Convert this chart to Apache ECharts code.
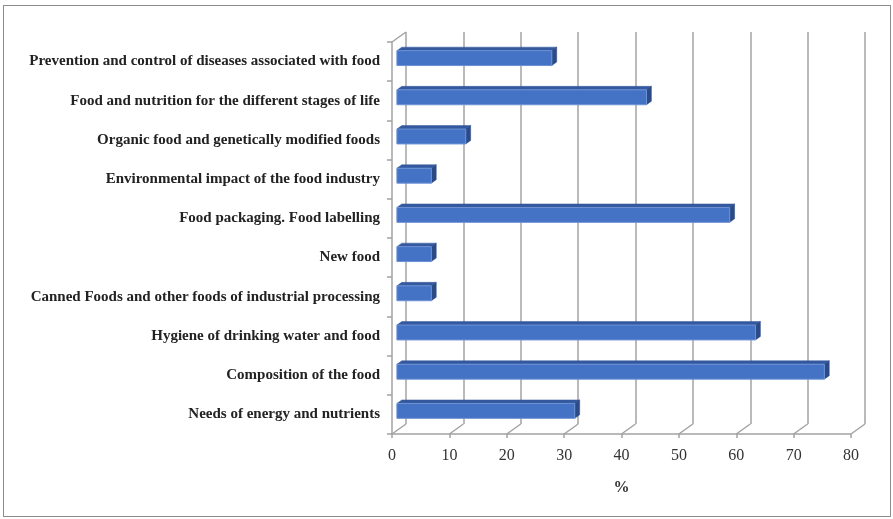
<!DOCTYPE html>
<html><head><meta charset="utf-8">
<script src="https://cdn.jsdelivr.net/npm/echarts@6/dist/echarts.min.js"></script>
<style>
html,body{margin:0;padding:0;background:#fff;}
#c{width:893px;height:519px;position:relative;}
#frame{position:absolute;left:3px;top:5px;width:886px;height:510px;border:1px solid #8c8c8c;pointer-events:none;}
</style></head>
<body>
<div id="c"></div><div id="frame"></div>
<script>
// Data
const categories = [
  "Prevention and control of diseases associated with food",
  "Food and nutrition for the different stages of life",
  "Organic food and genetically modified foods",
  "Environmental impact of the food industry",
  "Food packaging. Food labelling",
  "New food",
  "Canned Foods and other foods of industrial processing",
  "Hygiene of drinking water and food",
  "Composition of the food",
  "Needs of energy and nutrients"
];
const values = [27, 43.5, 12, 6, 58, 6, 6, 62.5, 74.5, 31];
const xTicks = [0, 10, 20, 30, 40, 50, 60, 70, 80];

// 3D depth (style)
const DX = 14, DY = -10;
const FRONT = 0.35, BACK = 0.7, BARW = 0.38;
const serif = '"Liberation Serif", "DejaVu Serif", serif';
const gridColor = '#a3a3a3';

const chart = echarts.init(document.getElementById('c'), null, {renderer: 'canvas'});

const option = {
  animation: false,
  grid: [
    {left: 392, top: 42, width: 459, height: 392},
    {left: 392 + DX, top: 42 + DY, width: 459, height: 392}
  ],
  xAxis: [
    {gridIndex: 0, type: 'value', min: 0, max: 80, interval: 10,
     axisLine: {show: true, lineStyle: {color: gridColor, width: 1.5}},
     axisTick: {show: true, length: 4, lineStyle: {color: gridColor, width: 1.5}},
     axisLabel: {fontFamily: serif, fontSize: 16, color: '#333', margin: 14},
     splitLine: {show: false},
     name: '%', nameLocation: 'middle', nameGap: 46,
     nameTextStyle: {fontFamily: serif, fontSize: 16, fontWeight: 'bold', color: '#333'}},
    {gridIndex: 1, type: 'value', min: 0, max: 80, interval: 10,
     axisLine: {show: false}, axisTick: {show: false}, axisLabel: {show: false},
     splitLine: {show: true, lineStyle: {color: gridColor, width: 1.5}}}
  ],
  yAxis: [
    {gridIndex: 0, type: 'category', data: categories, inverse: true,
     axisLine: {show: true, lineStyle: {color: gridColor, width: 1.5}},
     axisTick: {show: true, length: 5, lineStyle: {color: gridColor, width: 1.5}},
     axisLabel: {fontFamily: serif, fontSize: 15, fontWeight: 'bold', color: '#222', margin: 12}},
    {gridIndex: 1, type: 'category', data: categories, inverse: true, show: false}
  ],
  series: [
    {
      type: 'custom', xAxisIndex: 0, yAxisIndex: 0, clip: false, silent: true,
      data: xTicks.map(v => [v]),
      renderItem: function (params, api) {
        const cs = params.coordSys;
        const x = api.coord([api.value(0), 0])[0];
        const bottom = cs.y + cs.height;
        const children = [{
          type: 'line',
          shape: {x1: x, y1: bottom, x2: x + DX, y2: bottom + DY},
          style: {stroke: gridColor, lineWidth: 1.5}
        }];
        if (params.dataIndex === 0) {
          children.push({
            type: 'line',
            shape: {x1: cs.x, y1: cs.y, x2: cs.x + DX, y2: cs.y + DY},
            style: {stroke: gridColor, lineWidth: 1.5}
          });
        }
        return {type: 'group', children: children};
      }
    },
    {
      type: 'custom', xAxisIndex: 0, yAxisIndex: 0, clip: false,
      data: values.map((v, i) => [v, i]),
      renderItem: function (params, api) {
        const v = api.value(0), i = api.value(1);
        const p0 = api.coord([0, i]);
        const p1 = api.coord([v, i]);
        const band = api.size([0, 1])[1];
        const h = band * BARW;
        const fx = DX * FRONT, fy = DY * FRONT;
        const bx = DX * BACK, by = DY * BACK;
        const xl = p0[0] + fx, xr = p1[0] + fx;
        const yt = p0[1] - h / 2 + fy, yb = p0[1] + h / 2 + fy;
        const ddx = bx - fx, ddy = by - fy;
        return {
          type: 'group',
          children: [
            {type: 'polygon', shape: {points: [[xl, yt], [xr, yt], [xr + ddx, yt + ddy], [xl + ddx, yt + ddy]]},
             style: {fill: '#34599f', stroke: '#34599f', lineWidth: 0.5}},
            {type: 'polygon', shape: {points: [[xr, yt], [xr + ddx, yt + ddy], [xr + ddx, yb + ddy], [xr, yb]]},
             style: {fill: '#2b4a86', stroke: '#2b4a86', lineWidth: 0.5}},
            {type: 'rect', shape: {x: xl, y: yt, width: xr - xl, height: yb - yt},
             style: {fill: '#4472c4', stroke: '#6d92d6', lineWidth: 1}}
          ]
        };
      }
    }
  ]
};
chart.setOption(option);
</script>
</body></html>
